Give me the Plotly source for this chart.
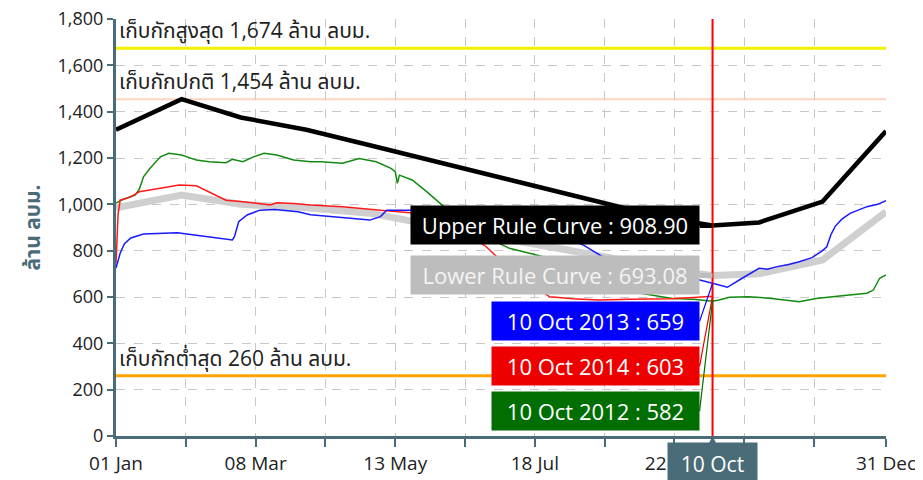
import plotly.graph_objects as go

YEAR = "2015"

# Rule curves
upper_dates = ["01-01", "02-01", "03-01", "04-01", "05-01", "06-01", "07-01",
               "08-01", "09-01", "10-01", "10-10", "11-01", "12-01", "12-31"]
upper_vals = [1322, 1454, 1375, 1322, 1255, 1185, 1115, 1045, 978, 922, 908.90, 922, 1012, 1316]

lower_dates = ["01-01", "02-01", "03-01", "04-01", "05-01", "06-01", "07-01",
               "08-01", "09-01", "10-01", "10-10", "11-01", "12-01", "12-31"]
lower_vals = [985, 1040, 1000, 985, 962, 905, 855, 805, 750, 703, 693.08, 700, 760, 968]

# 2013 (blue)
y2013_dates = ["01-01", "01-03", "01-05", "01-08", "01-14", "01-22", "01-30", "02-08", "02-19",
               "02-25", "02-26", "02-28", "03-04", "03-10", "03-17", "03-28", "04-03", "04-14",
               "04-22", "05-01", "05-06", "05-09", "05-20", "06-01", "06-20", "07-10", "07-25",
               "08-10", "08-19", "09-08", "09-22", "10-04", "10-10", "10-17", "10-24", "11-01",
               "11-05", "11-09", "11-15", "11-20", "11-26", "12-01", "12-03", "12-05", "12-07",
               "12-10", "12-14", "12-18", "12-22", "12-27", "12-31"]
y2013_vals = [725, 790, 830, 855, 872, 876, 877, 867, 853,
              846, 860, 925, 954, 975, 978, 968, 955, 947,
              940, 932, 947, 975, 975, 970, 950, 920, 880,
              824, 774, 720, 690, 673, 659, 642, 681, 724,
              720, 730, 740, 752, 770, 800, 817, 870, 905,
              935, 961, 975, 990, 1000, 1016]

# 2014 (red) - ends on 10 Oct
y2014_dates = ["01-01", "01-02", "01-03", "01-08", "01-12", "01-17", "01-27", "01-31", "02-08",
               "02-14", "02-22", "03-02", "03-10", "03-15", "03-18", "03-26", "04-03", "04-18",
               "05-06", "05-20", "06-05", "06-15", "06-25", "06-30", "07-10", "07-25", "08-05",
               "08-17", "09-01", "09-20", "10-01", "10-10"]
y2014_vals = [745, 960, 1018, 1032, 1054, 1062, 1079, 1083, 1080,
              1054, 1018, 1011, 1004, 997, 1007, 1004, 997, 990,
              975, 964, 930, 880, 817, 774, 700, 601, 592,
              587, 590, 592, 598, 603]

# 2012 (green)
y2012_dates = ["01-01", "01-04", "01-10", "01-12", "01-14", "01-17", "01-22", "01-26", "02-01",
               "02-08", "02-14", "02-22", "02-25", "03-02", "03-07", "03-12", "03-18", "03-26",
               "04-03", "04-08", "04-18", "04-26", "05-04", "05-11", "05-13", "05-14", "05-15",
               "05-21", "05-28", "06-05", "06-20", "07-06", "07-22", "08-10", "08-25", "09-06",
               "09-21", "10-01", "10-10", "10-13", "10-18", "10-27", "11-07", "11-20", "11-28",
               "12-09", "12-22", "12-25", "12-28", "12-31"]
y2012_vals = [1005, 1020, 1040, 1065, 1119, 1155, 1205, 1220, 1213,
              1191, 1184, 1180, 1194, 1184, 1205, 1220, 1213, 1191,
              1184, 1184, 1177, 1198, 1184, 1155, 1141, 1091, 1126,
              1105, 1054, 990, 880, 810, 774, 700, 640, 616,
              594, 590, 582, 587, 599, 601, 594, 580, 594,
              604, 616, 630, 681, 695]

# Reference storage levels
ref_vals = [1674, 1454, 260]
ref_labels = ["เก็บกักสูงสุด 1,674 ล้าน ลบม.", "เก็บกักปกติ 1,454 ล้าน ลบม.", "เก็บกักต่ำสุด 260 ล้าน ลบม."]
ref_colors = ["#f2f200", "#ffd3bd", "#ffa500"]
ref_widths = [3, 2, 3]

# Axis ticks
tick_dates = ["01-01", "02-03", "03-08", "04-10", "05-13", "06-15", "07-18", "08-20",
              "09-22", "10-25", "11-27", "12-31"]
tick_text = ["01 Jan", "", "08 Mar", "", "13 May", "", "18 Jul", "", "22 Sep", "", "", "31 Dec"]
y_ticks = [0, 200, 400, 600, 800, 1000, 1200, 1400, 1600, 1800]

cursor_date = "10-10"
cursor_label = "10 Oct"


def d(lst):
    return [f"{YEAR}-{s}" for s in lst]


AX = "#4a6b78"
FONT = "Open Sans, Noto Sans Thai, Tahoma, sans-serif"

fig = go.Figure()
fig.add_trace(go.Scatter(x=d(lower_dates), y=lower_vals, mode="lines",
                         line=dict(color="#cfcfcf", width=7), name="Lower Rule Curve"))
fig.add_trace(go.Scatter(x=d(y2012_dates), y=y2012_vals, mode="lines",
                         line=dict(color="#128a12", width=1.5), name="2012"))
fig.add_trace(go.Scatter(x=d(y2014_dates), y=y2014_vals, mode="lines",
                         line=dict(color="#ff1a1a", width=1.5), name="2014"))
fig.add_trace(go.Scatter(x=d(y2013_dates), y=y2013_vals, mode="lines",
                         line=dict(color="#1a1aff", width=1.5), name="2013"))
fig.add_trace(go.Scatter(x=d(upper_dates), y=upper_vals, mode="lines",
                         line=dict(color="#000000", width=4.5), name="Upper Rule Curve"))

shapes = []
annotations = []
for v, lab, c, w in zip(ref_vals, ref_labels, ref_colors, ref_widths):
    shapes.append(dict(type="line", xref="paper", x0=0, x1=1, yref="y", y0=v, y1=v,
                       line=dict(color=c, width=w), layer="below"))
    annotations.append(dict(x=0, xref="paper", y=v, yref="y", text=lab, showarrow=False,
                            xanchor="left", yanchor="bottom", xshift=1, yshift=2,
                            font=dict(family=FONT, size=21, color="#222222")))

cx = f"{YEAR}-{cursor_date}"
shapes.append(dict(type="line", x0=cx, x1=cx, xref="x", yref="paper", y0=0, y1=1,
                   line=dict(color="#ff0000", width=2), layer="above"))

# Tooltip values read at the cursor date
def val_at(dates, vals):
    return vals[dates.index(cursor_date)]

tips = [
    (f"Upper Rule Curve : {val_at(upper_dates, upper_vals):.2f}", val_at(upper_dates, upper_vals), "#000000", "#ffffff", 0, 280, 5),
    (f"Lower Rule Curve : {val_at(lower_dates, lower_vals):.2f}", val_at(lower_dates, lower_vals), "#bdbdbd", "#f4f4f4", 0, 280, 5),
    (f"10 Oct 2013 : {val_at(y2013_dates, y2013_vals):.0f}", val_at(y2013_dates, y2013_vals), "#0000ff", "#ffffff", 38, 199, 1.2),
    (f"10 Oct 2014 : {val_at(y2014_dates, y2014_vals):.0f}", val_at(y2014_dates, y2014_vals), "#ee0000", "#ffffff", 70, 199, 1.2),
    (f"10 Oct 2012 : {val_at(y2012_dates, y2012_vals):.0f}", val_at(y2012_dates, y2012_vals), "#006e00", "#ffffff", 110, 199, 1.2),
]
for text, v, bg, fc, ay, wdt, aw in tips:
    annotations.append(dict(x=cx, y=v, xref="x", yref="y", text=text, showarrow=True,
                            ax=-13, ay=ay, axref="pixel", ayref="pixel",
                            xanchor="right", yanchor="middle",
                            arrowhead=0, arrowwidth=aw, arrowcolor=bg,
                            bgcolor=bg, borderpad=4, width=wdt, align="center",
                            font=dict(family=FONT, size=22, color=fc)))

annotations.append(dict(x=cx, y=0, xref="x", yref="y", text=cursor_label, showarrow=True,
                        ax=0, ay=6, axref="pixel", ayref="pixel",
                        xanchor="center", yanchor="top",
                        arrowhead=2, arrowsize=0.8, arrowwidth=2, arrowcolor=AX, standoff=0,
                        bgcolor=AX, borderpad=7, width=75, align="center",
                        font=dict(family=FONT, size=21, color="#ffffff")))

# The page adds an 8px body margin, so the figure is 8px smaller than the window
fig.update_layout(
    width=915, height=472,
    margin=dict(l=108, r=37, t=11, b=44, autoexpand=False),
    paper_bgcolor="#ffffff", plot_bgcolor="#ffffff",
    showlegend=False,
    shapes=shapes, annotations=annotations,
    font=dict(family=FONT, size=18, color="#222222"),
)
fig.update_xaxes(
    type="date", range=[f"{YEAR}-01-01", f"{YEAR}-12-31"],
    tickvals=d(tick_dates), ticktext=tick_text,
    showgrid=True, gridcolor="#c8c8c8", griddash="dash", gridwidth=1,
    showline=True, linecolor=AX, linewidth=3,
    ticks="outside", ticklen=8, tickwidth=2, tickcolor=AX,
    tickfont=dict(family=FONT, size=19, color="#222222"),
    ticklabeloverflow="allow",
    zeroline=False, automargin=False,
)
fig.update_yaxes(
    range=[0, 1800], tickvals=y_ticks, tickformat=",d",
    showgrid=True, gridcolor="#c8c8c8", griddash="dash", gridwidth=1,
    showline=True, linecolor=AX, linewidth=3,
    ticks="outside", ticklen=6, tickwidth=2, tickcolor=AX,
    tickfont=dict(family=FONT, size=18, color="#222222"),
    ticklabeloverflow="allow",
    title=dict(text="<b>ล้าน ลบม.</b>", font=dict(family=FONT, size=21, color=AX), standoff=12),
    zeroline=False, automargin=False,
)

fig.write_html("out.html")
